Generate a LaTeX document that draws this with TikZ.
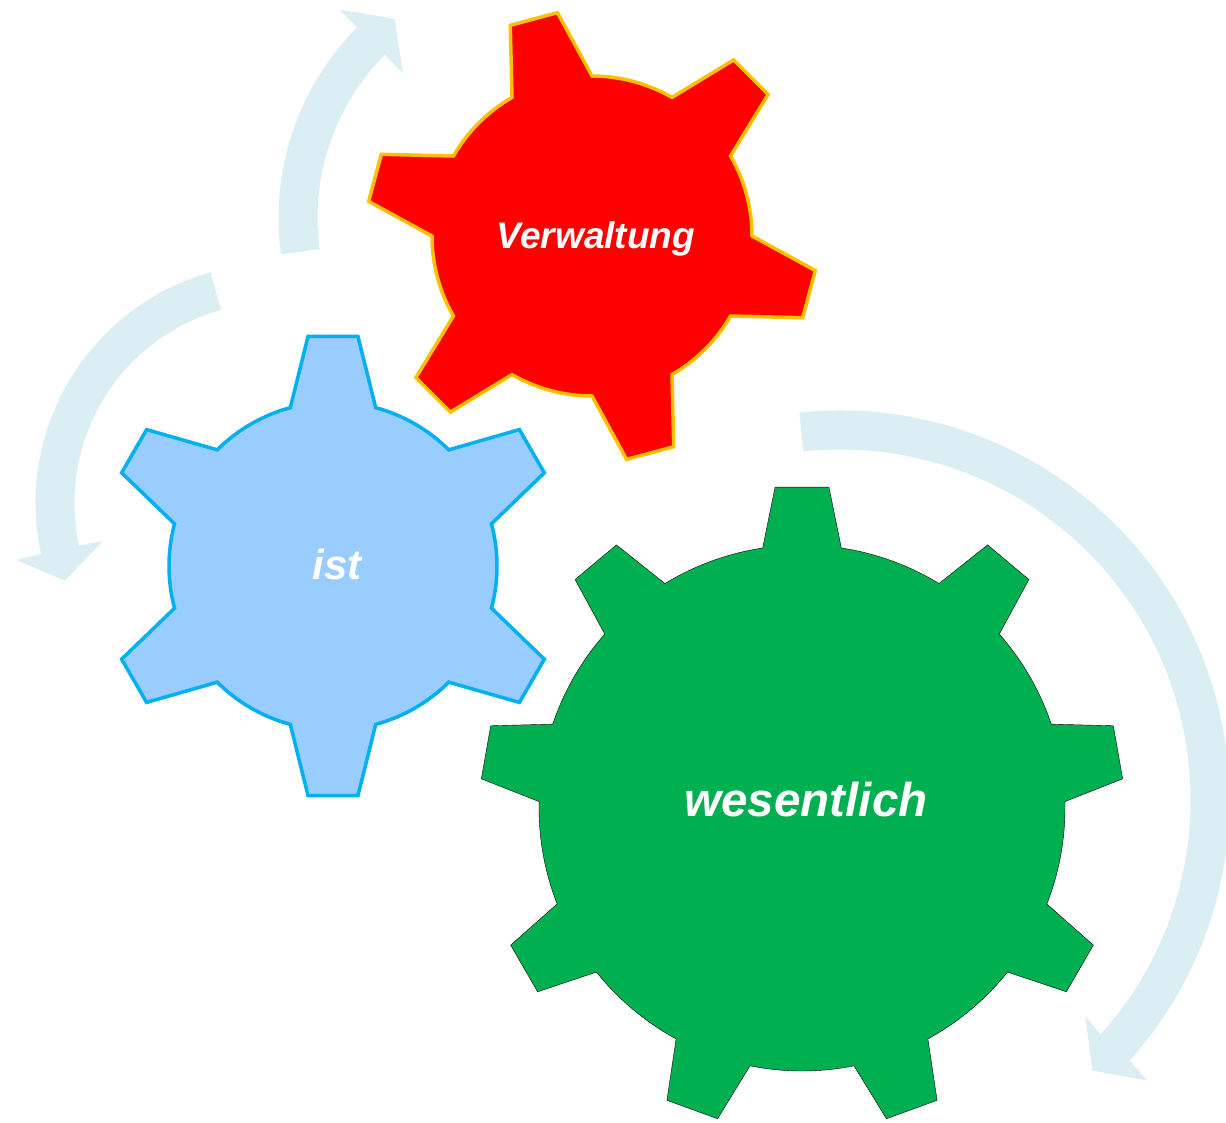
\documentclass[tikz,border=0pt]{standalone}
\usepackage{fontspec}
\setmainfont{Liberation Sans}
\usepackage{tikz}
\usetikzlibrary{calc}
\usepackage{xcolor}
\definecolor{B0}{HTML}{99CCFF}
\definecolor{B1}{HTML}{00B0F0}
\definecolor{R0}{HTML}{FF0000}
\definecolor{R1}{HTML}{FFC000}
\definecolor{G0}{HTML}{00B050}
\definecolor{A0}{HTML}{DAEEF3}
% #1 centre, #2 teeth, #3 first tooth, #4 root radius, #5 root half angle,
% #6 tip radius, #7 tip half angle, #8 style
\newcommand\cogwheel[8]{%
  \draw[#8,shift={#1}] ({#3-#5}:#4)
    foreach \k in {1,...,#2}{
      -- ({#3+(\k-1)*360/#2-#7}:#6) -- ({#3+(\k-1)*360/#2+#7}:#6)
      -- ({#3+(\k-1)*360/#2+#5}:#4)
      arc[start angle={#3+(\k-1)*360/#2+#5},end angle={#3+\k*360/#2-#5},radius=#4]
    } -- cycle;}
\tikzset{gearlabel/.style={text=white,font=\bfseries\itshape,inner sep=0pt}}

\begin{document}
\begin{tikzpicture}[x=1pt,y=1pt]
\useasboundingbox (0,0) rectangle (1226,-1122);

\def\lw{3.5pt}

\coordinate (cb) at (333,-566);
\coordinate (cr) at (592,-236);
\coordinate (cg) at (802,-808);

% arrows
\fill[A0,shift={(549,-218)}] (187.7:270.5) arc[start angle=187.7,end angle=135.2,radius=270.5]
  -- (135.2:296) -- (127.8:252) -- (135.2:206) -- (135.2:231.5)
  arc[start angle=135.2,end angle=187.7,radius=231.5] -- cycle;
\fill[A0,shift={(275,-503)}] (105.6:239.5) arc[start angle=105.6,end angle=192.3,radius=239.5]
  -- (192.4:265) -- (200.3:224) -- (192.4:176) -- (192.3:200.5)
  arc[start angle=192.3,end angle=105.6,radius=200.5] -- cycle;
\fill[A0,shift={(840,-800)}] (96:389.5) arc[start angle=96,end angle=-42,radius=389.5]
  -- (-42.4:416) -- (-47:370) -- (-41.4:327) -- (-42:350.5)
  arc[start angle=-42,end angle=96,radius=350.5] -- cycle;

% gears
\cogwheel{(cb)}{6}{90}{164}{15.1}{231}{6.2}{fill=B0,draw=B1,line width=\lw}
\cogwheel{(cr)}{6}{45}{160}{15}{226}{6.2}{fill=R0,draw=R1,line width=\lw}
\cogwheel{(cg)}{9}{90}{263}{8.6}{322}{4.8}{fill=G0}

\node[gearlabel,font=\bfseries\itshape\fontsize{42pt}{44pt}\selectfont] (ist) at ($(cb)+(4,2)$) {ist};
\node[gearlabel,font=\bfseries\itshape\fontsize{37pt}{40pt}\selectfont] (verwaltung) at ($(cr)+(4,-3)$) {Verwaltung};
\node[gearlabel,font=\bfseries\itshape\fontsize{47.5pt}{50pt}\selectfont] (wesentlich) at ($(cg)+(4,8)$) {wesentlich};

\end{tikzpicture}
\end{document}
